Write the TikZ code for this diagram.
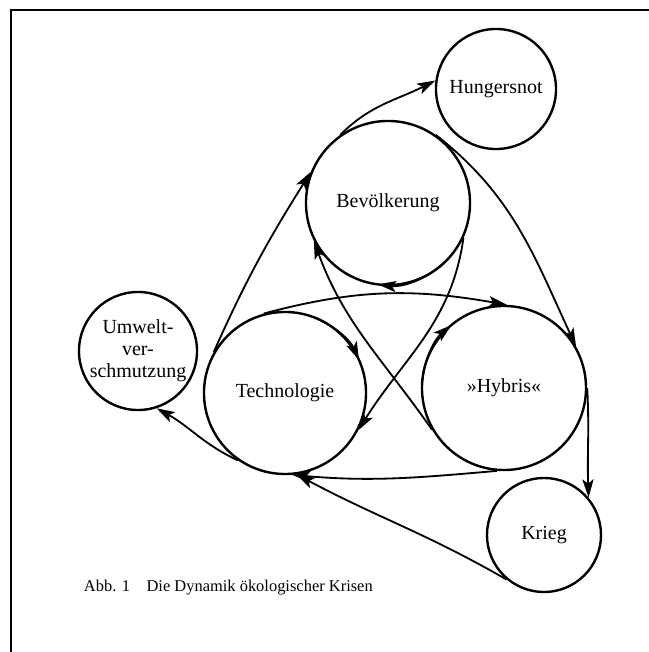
\documentclass[tikz,border=0pt]{standalone}
\usepackage{fontspec}
\setmainfont{Liberation Serif}
\usetikzlibrary{arrows.meta}
\begin{document}
\begin{tikzpicture}[x=0.025cm, y=0.025cm,
  bubble/.style={circle, draw, line width=1.7pt, inner sep=0pt, align=center,
    font=\fontsize{14.2}{15.5}\selectfont},
  link/.style={line width=1.3pt, -{Stealth[length=13pt, width=8pt, inset=3pt]}}]
  \useasboundingbox (0,0) rectangle (649,652);
  \draw[line width=2pt] (11,0) -- (11,642) -- (649,642);
  \node[bubble, minimum size=3cm] (hunger) at (496,563) {Hungersnot};
  \node[bubble, minimum size=4.1cm] (bev) at (388,449) {Bevölkerung};
  \node[bubble, minimum size=4.05cm] (tech) at (285,259) {Technologie};
  \node[bubble, minimum size=4.1cm] (hybris) at (504,264) {»Hybris«};
  \node[bubble, minimum size=2.95cm] (umwelt) at (138,301) {Umwelt-\\ver-\\schmutzung};
  \node[bubble, minimum size=2.85cm] (krieg) at (544,117) {Krieg};
  \node[anchor=west, font=\fontsize{11.7}{13}\selectfont] (caption) at (79,64)
    {Abb. \oldstylenums{1}\hspace{1em}Die Dynamik ökologischer Krisen};
  \draw[link] (tech.150) to[out=66, in=238] (bev.158);
  \draw[link] (bev.125) to[out=45, in=207] (hunger.172);
  \draw[link] (bev.55) to[out=-38, in=115] (hybris.30);
  \draw[link] (hybris.0) to[out=-87, in=92] (krieg.40);
  \draw[link] (hybris.265) to[out=185, in=-5] (tech.275);
  \draw[link] (krieg.230) to[out=150, in=-28] (tech.278);
  \draw[link] (tech.235) to[out=155, in=-29] (umwelt.-72);
  \draw[link] (tech.105) to[out=15, in=170] (hybris.88);
  \draw[link] (bev.-25) to[out=262, in=58] (tech.-27);
  \draw[link] (hybris.210) to[out=125, in=-70] (bev.207);
  \draw[link] (bev.center) ++(-45:82) arc[start angle=-45, end angle=-97, radius=82];
  \draw[link] (tech.center) ++(70:81) arc[start angle=70, end angle=24, radius=81];
  \draw[link] (hybris.center) ++(175:82) arc[start angle=175, end angle=130, radius=82];
\end{tikzpicture}
\end{document}
